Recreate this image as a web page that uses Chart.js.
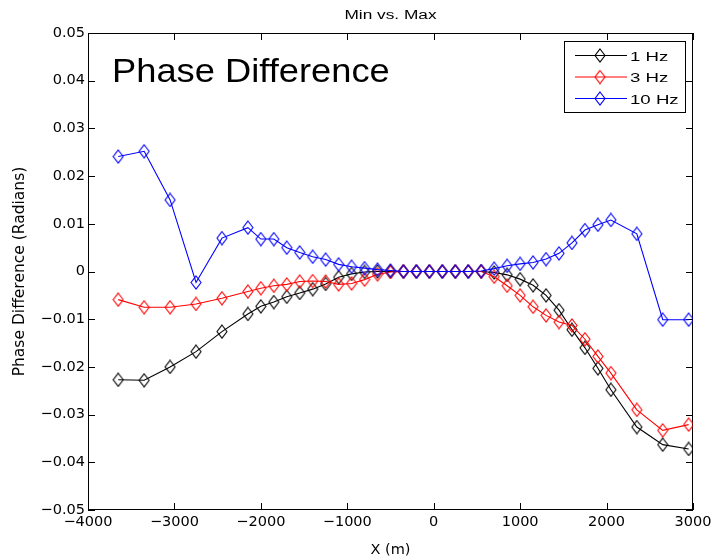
<!DOCTYPE html>
<html lang="en">
<head>
    <meta charset="UTF-8">
    <title>Min vs. Max</title>
    <script src="https://cdn.jsdelivr.net/npm/chart.js"></script>
    <style>
        body { margin: 0; background: #fff; }
        canvas { display: block; }
    </style>
</head>
<body>
    <canvas id="phaseChart" width="714" height="559"></canvas>

    <script>
        // Distance along the line (m)
        const xValues = [
            -3650, -3350, -3050, -2750, -2450,
            -2150, -2000, -1850, -1700, -1550, -1400, -1250, -1100, -950, -800,
            -650, -500, -350, -200, -50, 100, 250, 400, 550, 700,
            850, 1000, 1150, 1300, 1450, 1600, 1750, 1900, 2050,
            2350, 2650, 2950
        ];

        const phase1Hz = [
            -0.0227, -0.0228, -0.0200, -0.0168, -0.0126,
            -0.0089, -0.0073, -0.0064, -0.0053, -0.0045, -0.0037, -0.0026, -0.0012, -0.0005, -0.0001,
            0, 0, 0, 0, 0, 0, 0, 0, 0, -0.0002,
            -0.0007, -0.0016, -0.0029, -0.0050, -0.0081, -0.0122, -0.0160, -0.0203, -0.0248,
            -0.0326, -0.0363, -0.0372
        ];

        const phase3Hz = [
            -0.0059, -0.0075, -0.0075, -0.0068, -0.0056,
            -0.0042, -0.0035, -0.0030, -0.0027, -0.0021, -0.0020, -0.0021, -0.0027, -0.0025, -0.0017,
            -0.0006, -0.0001, 0, 0, 0, 0, 0, 0, 0, -0.0011,
            -0.0030, -0.0050, -0.0074, -0.0092, -0.0106, -0.0113, -0.0142, -0.0178, -0.0213,
            -0.0290, -0.0333, -0.0321
        ];

        const phase10Hz = [
            0.0241, 0.0252, 0.0150, -0.0023, 0.0070,
            0.0092, 0.0068, 0.0068, 0.0050, 0.0040, 0.0031, 0.0025, 0.0015, 0.0010, 0.0007,
            0.0004, 0.0002, 0, 0, 0, 0, 0, 0, 0.0001, 0.0006,
            0.0012, 0.0016, 0.0019, 0.0026, 0.0038, 0.0060, 0.0087, 0.0098, 0.0108,
            0.0079, -0.0101, -0.0101
        ];

        const seriesLabels = ['1 Hz', '3 Hz', '10 Hz'];
        const seriesColors = ['#000000', '#ff0000', '#0000ff'];

        const tickFont = { family: 'DejaVu Sans', size: 14.5 };

        // hollow diamond marker, a bit taller than wide like the matlab one
        function makeDiamond(color) {
            const c = document.createElement('canvas');
            c.width = 12;
            c.height = 15;
            const g = c.getContext('2d');
            g.strokeStyle = color;
            g.lineWidth = 1.1;
            g.beginPath();
            g.moveTo(6, 1);
            g.lineTo(11, 7.5);
            g.lineTo(6, 14);
            g.lineTo(1, 7.5);
            g.closePath();
            g.stroke();
            return c;
        }
        const markers = seriesColors.map(makeDiamond);

        function toPoints(ys) {
            return xValues.map((x, i) => ({ x: x, y: ys[i] }));
        }

        function minus(str) {
            return str.replace('-', '\u2212');
        }

        // text squeezed/stretched horizontally
        function stretchText(ctx, text, x, y, font, sx, align, baseline) {
            ctx.save();
            ctx.font = font;
            ctx.fillStyle = '#000';
            ctx.textAlign = align;
            ctx.textBaseline = baseline;
            ctx.translate(x, y);
            ctx.scale(sx, 1);
            ctx.fillText(text, 0, 0);
            ctx.restore();
        }

        // box, inward ticks, title, legend and the big label
        const matlabFrame = {
            id: 'matlabFrame',
            beforeDatasetsDraw(chart) {
                const ctx = chart.ctx;
                const a = chart.chartArea;
                const xs = chart.scales.x;
                const ys = chart.scales.y;
                ctx.save();
                ctx.strokeStyle = '#000';
                ctx.lineWidth = 1;
                ctx.strokeRect(a.left + 0.5, a.top + 0.5, a.right - a.left - 1, a.bottom - a.top - 1);

                ctx.beginPath();
                xs.ticks.forEach(t => {
                    const px = Math.round(xs.getPixelForValue(t.value)) + 0.5;
                    ctx.moveTo(px, a.bottom);
                    ctx.lineTo(px, a.bottom - 7);
                    ctx.moveTo(px, a.top);
                    ctx.lineTo(px, a.top + 7);
                });
                ys.ticks.forEach(t => {
                    const py = Math.round(ys.getPixelForValue(t.value)) + 0.5;
                    ctx.moveTo(a.left, py);
                    ctx.lineTo(a.left + 7, py);
                    ctx.moveTo(a.right, py);
                    ctx.lineTo(a.right - 7, py);
                });
                ctx.stroke();
                ctx.restore();
            },
            afterDraw(chart) {
                const ctx = chart.ctx;
                const a = chart.chartArea;

                stretchText(ctx, 'Min vs. Max', (a.left + a.right) / 2, 18.5,
                    '12.5px "Liberation Sans"', 1.38, 'center', 'alphabetic');

                stretchText(ctx, 'Phase Difference', 112, 82,
                    '33px "Liberation Sans"', 1.1, 'left', 'alphabetic');

                // legend
                const bx = 564.5, by = 41.5, bw = 121, bh = 71;
                ctx.save();
                ctx.fillStyle = '#fff';
                ctx.fillRect(bx, by, bw, bh);
                ctx.strokeStyle = '#000';
                ctx.lineWidth = 1;
                ctx.strokeRect(bx, by, bw, bh);
                const rows = [55.5, 77, 98.5];
                seriesLabels.forEach((label, i) => {
                    ctx.strokeStyle = seriesColors[i];
                    ctx.beginPath();
                    ctx.moveTo(575, rows[i]);
                    ctx.lineTo(627, rows[i]);
                    ctx.stroke();
                    ctx.drawImage(markers[i], 600 - 6, rows[i] - 7.5);
                    stretchText(ctx, label, 630, rows[i] + 5, '13.5px "Liberation Sans"', 1.38, 'left', 'alphabetic');
                });
                ctx.restore();
            }
        };

        const chart = new Chart(document.getElementById('phaseChart'), {
            type: 'line',
            data: {
                datasets: [
                    { label: seriesLabels[0], data: toPoints(phase1Hz), order: 3 },
                    { label: seriesLabels[1], data: toPoints(phase3Hz), order: 2 },
                    { label: seriesLabels[2], data: toPoints(phase10Hz), order: 1 }
                ].map((d, i) => Object.assign(d, {
                    borderColor: seriesColors[i],
                    backgroundColor: 'transparent',
                    borderWidth: 1.1,
                    pointStyle: markers[i],
                    pointRadius: 6,
                    tension: 0,
                    fill: false
                }))
            },
            options: {
                responsive: false,
                devicePixelRatio: 1,
                animation: false,
                layout: {
                    padding: { top: 33, right: 21, bottom: 0, left: 0 }
                },
                plugins: {
                    legend: { display: false },
                    title: { display: false },
                    tooltip: { enabled: false }
                },
                scales: {
                    x: {
                        type: 'linear',
                        min: -4000,
                        max: 3000,
                        grid: { display: false, drawTicks: false },
                        border: { display: false },
                        ticks: {
                            stepSize: 1000,
                            color: '#000',
                            font: tickFont,
                            padding: 4,
                            maxRotation: 0,
                            callback: v => minus(String(v))
                        },
                        title: {
                            display: true,
                            text: 'X (m)',
                            color: '#000',
                            font: tickFont,
                            padding: { top: 3, bottom: 0 }
                        },
                        afterFit(scale) {
                            scale.height = 49;
                            scale.paddingLeft = 0;
                            scale.paddingRight = 0;
                        }
                    },
                    y: {
                        min: -0.05,
                        max: 0.05,
                        grid: { display: false, drawTicks: false },
                        border: { display: false },
                        ticks: {
                            stepSize: 0.01,
                            color: '#000',
                            font: tickFont,
                            padding: 3,
                            callback: v => Math.abs(v) < 1e-9 ? '0' : minus(v.toFixed(2))
                        },
                        title: {
                            display: true,
                            text: 'Phase Difference (Radians)',
                            color: '#000',
                            font: { family: 'DejaVu Sans', size: 15.5 },
                            padding: { top: 11, bottom: 0 }
                        },
                        afterFit(scale) {
                            scale.width = 88;
                            scale.paddingTop = 0;
                            scale.paddingBottom = 0;
                        }
                    }
                }
            },
            plugins: [matlabFrame]
        });
    </script>
</body>
</html>
